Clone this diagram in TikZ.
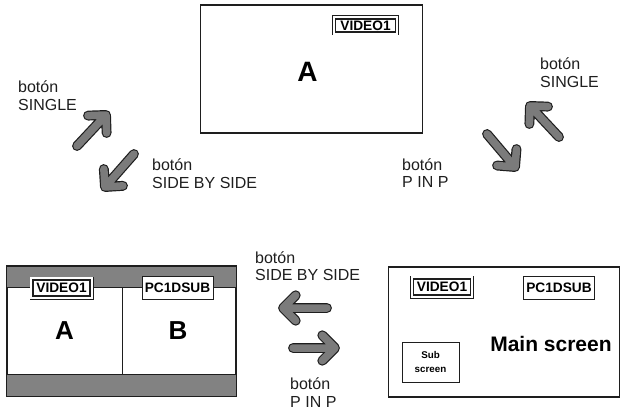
\documentclass[tikz,border=0pt]{standalone}
\usepackage{fontspec}
\setmainfont{Liberation Sans}
\usetikzlibrary{calc,positioning}
\definecolor{Ink}{HTML}{1E1E1E}
\definecolor{ArrowGray}{HTML}{7B7B7B}
\definecolor{BandGray}{HTML}{828282}
\tikzset{
 screen/.style={draw=Ink, line width=1.3pt, fill=white, inner sep=0pt},
 tag/.style={draw=Ink, line width=0.9pt, fill=white, inner sep=0pt, minimum width=71pt, minimum height=23pt, font=\bfseries\fontsize{13.7}{14}\selectfont},
 dbltag/.style={tag, line width=1.6pt, minimum width=57pt, minimum height=16pt, preaction={draw=Ink, line width=7pt}, preaction={draw=white, line width=5.2pt}},
 letter/.style={font=\bfseries\fontsize{26}{28}\selectfont},
 btn/.style={align=left, inner sep=0pt, anchor=base west, text=Ink, font=\fontsize{16}{17.5}\selectfont},
 fatarrow/.style={draw=Ink, double=ArrowGray, double distance=7.5pt, line width=1.2pt, line cap=round, line join=round}
}
% arrow with an open chevron head
\newcommand{\fatarrow}[2]{\draw[fatarrow] (#1) -- (#2) ($(#2)!18pt!45:(#1)$) -- (#2) -- ($(#2)!18pt!-45:(#1)$);}

\begin{document}
\begin{tikzpicture}[x=1pt,y=-1pt]
\useasboundingbox (0,0) rectangle (621,409);

% single picture
\node[screen, minimum width=222pt, minimum height=128pt] (single) at (311.5,69) {};
\node[font=\bfseries\fontsize{28}{30}\selectfont] (singleA) at (307.5,72) {A};
\node[dbltag, minimum width=60pt, minimum height=13pt] (singleTag) at (365.5,25.5) {VIDEO1};

% side by side
\node[screen, minimum width=229pt, minimum height=129pt] (sbs) at (121.5,331) {};
\fill[BandGray] (sbs.north west) rectangle (236,287.5);
\fill[BandGray] (7,374.5) rectangle (sbs.south east);
\draw[Ink, line width=0.9pt] (7,287.5) -- (236,287.5) (7,374.5) -- (236,374.5);
\draw[Ink, line width=0.9pt] (122,287.5) -- (122,374.5);
\draw[Ink, line width=1.3pt] (sbs.north west) rectangle (sbs.south east);
\node[letter] (sbsA) at (64.5,331) {A};
\node[letter] (sbsB) at (178,331) {B};
\node[dbltag] (sbsTagA) at (61.5,288) {VIDEO1};
\node[tag] (sbsTagB) at (177.5,288) {PC1DSUB};

% picture in picture
\node[screen, minimum width=231pt, minimum height=130pt] (pip) at (504,332) {};
\node[dbltag] (pipTagA) at (442,287) {VIDEO1};
\node[tag] (pipTagB) at (559,287.5) {PC1DSUB};
\node[font=\bfseries\fontsize{21}{23}\selectfont] (mainLbl) at (551,344) {Main screen};
\node[draw=Ink, line width=0.9pt, minimum width=57pt, minimum height=40pt, align=center,
  font=\bfseries\fontsize{9.8}{14}\selectfont] (subScr) at (430.5,362) {Sub\\screen};

% arrows
\coordinate (neTail) at (77,146);   \coordinate (neTip) at (106,115);
\coordinate (swTail) at (134,154);  \coordinate (swTip) at (105,187);
\coordinate (seTail) at (487,134);  \coordinate (seTip) at (515,167);
\coordinate (nwTail) at (559,137);  \coordinate (nwTip) at (530,106);
\coordinate (wTail) at (327,308);   \coordinate (wTip) at (283,308);
\coordinate (eTail) at (293,348);   \coordinate (eTip) at (335,348);
\fatarrow{neTail}{neTip}
\fatarrow{swTail}{swTip}
\fatarrow{seTail}{seTip}
\fatarrow{nwTail}{nwTip}
\fatarrow{wTail}{wTip}
\fatarrow{eTail}{eTip}

% button labels (anchored on the second line)
\node[btn] (btnSingleL) at (18,110.5) {botón\\SINGLE};
\node[btn] (btnSbsL) at (152,188.5) {botón\\SIDE BY SIDE};
\node[btn] (btnSingleR) at (540,87.5) {botón\\SINGLE};
\node[btn] (btnPipR) at (402,187.5) {botón\\P IN P};
\node[btn] (btnSbsM) at (255,280.5) {botón\\SIDE BY SIDE};
\node[btn] (btnPipM) at (290,407) {botón\\P IN P};
\end{tikzpicture}
\end{document}
